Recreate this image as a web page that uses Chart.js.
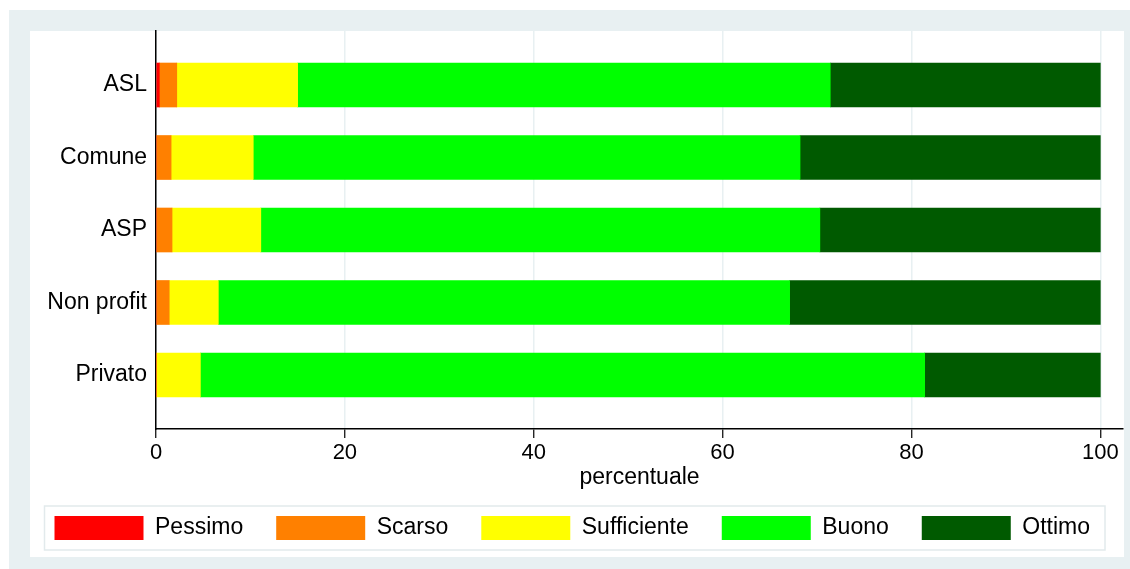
<!DOCTYPE html>
<html>
<head>
<meta charset="utf-8">
<script src="https://cdn.jsdelivr.net/npm/chart.js@4"></script>
<style>
  html, body { margin: 0; padding: 0; background: #fff; }
  canvas { display: block; }
</style>
</head>
<body>
<canvas id="grafo" width="1130" height="569"></canvas>
<script>
// categorie (dall'alto verso il basso) e percentuali per giudizio
const categorie = ["ASL", "Comune", "ASP", "Non profit", "Privato"];
const giudizi = ["Pessimo", "Scarso", "Sufficiente", "Buono", "Ottimo"];
const pessimo = [0.35, 0, 0, 0, 0];
const scarso = [1.85, 1.6, 1.7, 1.4, 0];
const sufficiente = [12.8, 8.7, 9.4, 5.2, 4.7];
const buono = [56.4, 57.9, 59.2, 60.5, 76.7];
const ottimo = [28.6, 31.8, 29.7, 32.9, 18.6];
const tickX = [0, 20, 40, 60, 80, 100];

const colori = ["#ff0000", "#ff8000", "#ffff00", "#00ff00", "#005a00"];
const serie = [pessimo, scarso, sufficiente, buono, ottimo];
const chiaro = "#e8f0f2";

const sfondo = {
    id: "sfondo",
    beforeDraw(chart) {
        const c = chart.ctx;
        c.save();
        c.fillStyle = "#ffffff"; c.fillRect(0, 0, chart.width, chart.height);
        c.fillStyle = chiaro; c.fillRect(9, 10, chart.width - 9, chart.height - 10);
        c.fillStyle = "#ffffff"; c.fillRect(30, 31, 1094, 526);
        c.restore();
    },
    afterDraw(chart) {
        const lg = chart.legend;
        if (!lg || !lg.legendHitBoxes.length) return;
        const hb = lg.legendHitBoxes;
        const first = hb[0], last = hb[hb.length - 1];
        const c = chart.ctx;
        c.save();
        c.strokeStyle = "#e2eaec";
        c.lineWidth = 1.5;
        c.strokeRect(first.left - 10, lg.top + 23, last.left + last.width + 15 - (first.left - 10), lg.bottom - lg.top - 23);
        c.restore();
    }
};

Chart.defaults.font.family = "'Liberation Sans', Arial, sans-serif";
Chart.defaults.color = "#000";

new Chart(document.getElementById("grafo").getContext("2d"), {
    type: "bar",
    data: {
        datasets: giudizi.map(function(g, k) {
            return {
                label: g,
                data: serie[k].map(function(v, i) { return { x: v, y: i }; }),
                backgroundColor: colori[k],
                borderWidth: 0,
                barThickness: 44
            };
        })
    },
    options: {
        indexAxis: "y",
        responsive: false,
        animation: false,
        layout: { padding: { left: 0, right: 7, top: 31, bottom: 19 } },
        scales: {
            x: {
                type: "linear",
                stacked: true,
                min: 0,
                max: 102.4,
                afterBuildTicks: function(s) { s.ticks = tickX.map(function(v) { return { value: v }; }); },
                afterFit: function(s) { s.height = 54; },
                grid: { color: chiaro, lineWidth: 1.5, tickColor: "#000", tickLength: 9, tickWidth: 1.2 },
                border: { color: "#000", width: 1.5 },
                ticks: { font: { size: 22 }, padding: 2, maxRotation: 0 },
                title: { display: true, text: "percentuale", font: { size: 23, lineHeight: 1 }, padding: { top: 0, bottom: -6 } }
            },
            y: {
                type: "linear",
                stacked: true,
                reverse: true,
                offset: false,
                min: -0.745,
                max: 4.745,
                afterBuildTicks: function(s) { s.ticks = categorie.map(function(c, i) { return { value: i }; }); },
                afterFit: function(s) { s.width = 156; },
                grid: { drawOnChartArea: false, drawTicks: false, offset: false },
                border: { color: "#000", width: 1.5 },
                ticks: { font: { size: 23 }, padding: 9, callback: function(v) { return categorie[v]; } }
            }
        },
        plugins: {
            legend: {
                position: "bottom",
                align: "end",
                labels: { boxWidth: 89, boxHeight: 24, padding: 33, font: { size: 23 } }
            },
            tooltip: { enabled: false }
        }
    },
    plugins: [sfondo]
});
</script>
</body>
</html>
